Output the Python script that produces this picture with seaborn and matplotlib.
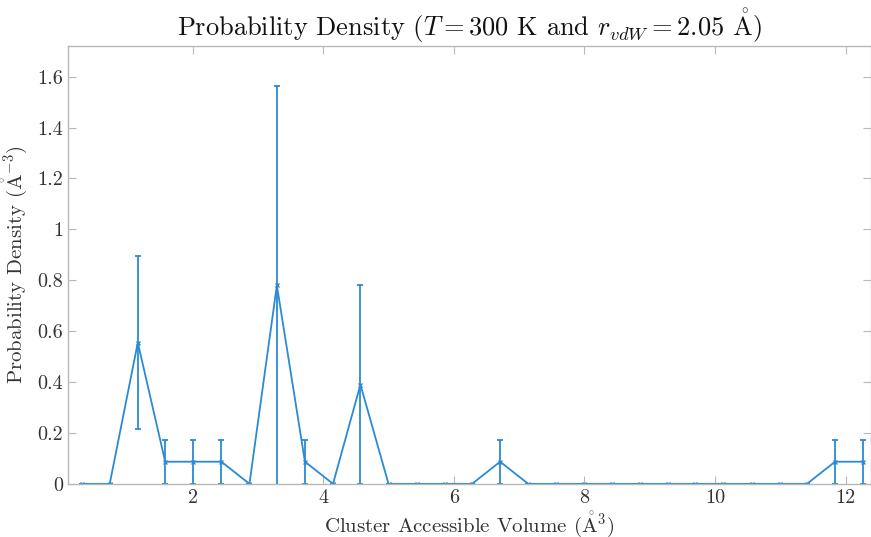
import numpy as np
import pandas as pd
import matplotlib
matplotlib.use("Agg")
import matplotlib.pyplot as plt
import seaborn as sns

# cluster volume bins (A^3)
volume = [0.30, 0.73, 1.16, 1.58, 2.01, 2.44, 2.87, 3.29, 3.72, 4.15,
          4.57, 5.00, 5.43, 5.86, 6.28, 6.71, 7.14, 7.57, 7.99, 8.42,
          8.85, 9.28, 9.70, 10.13, 10.56, 10.99, 11.41, 11.84, 12.27]
density = [0, 0, 0.555, 0.087, 0.087, 0.087, 0, 0.78, 0.087, 0,
           0.39, 0, 0, 0, 0, 0.087, 0, 0, 0, 0,
           0, 0, 0, 0, 0, 0, 0, 0.087, 0.087]
err = [0, 0, 0.34, 0.087, 0.087, 0.087, 0, 0.785, 0.087, 0,
       0.39, 0, 0, 0, 0, 0.087, 0, 0, 0, 0,
       0, 0, 0, 0, 0, 0, 0, 0.087, 0.087]

xticks = [2, 4, 6, 8, 10, 12]
yticks = [0, 0.2, 0.4, 0.6, 0.8, 1, 1.2, 1.4, 1.6]
ytick_labels = ['0', '0.2', '0.4', '0.6', '0.8', '1', '1.2', '1.4', '1.6']

df = pd.DataFrame({'volume': volume, 'density': density, 'err': err})

sns.set_style('ticks')
plt.rcParams['font.family'] = ['cmr10', 'DejaVu Serif']
plt.rcParams['mathtext.fontset'] = 'cm'
plt.rcParams['axes.formatter.use_mathtext'] = True

blue = '#2a8bd4'
grey = '#b8b8b8'
txt = '#333333'
ang = r'\mathring{\mathrm{A}}'

fig = plt.figure(figsize=(8.71, 5.37), dpi=100)
ax = fig.add_axes([0.078, 0.099, 0.922, 0.815])

sns.lineplot(data=df, x='volume', y='density', ax=ax, color=blue, lw=1.3,
             marker='x', markersize=3, markeredgewidth=1, markeredgecolor=blue)
ax.errorbar(df['volume'], df['density'], yerr=df['err'], fmt='none',
            ecolor=blue, elinewidth=1.3, capsize=2.2, capthick=1.3)

ax.set_xlim(0.09, 12.39)
ax.set_ylim(0, 1.72)
ax.set_xticks(xticks)
ax.set_xticklabels([str(t) for t in xticks])
ax.set_yticks(yticks)
ax.set_yticklabels(ytick_labels)

for s in ax.spines.values():
    s.set_visible(True)
    s.set_color(grey)
    s.set_linewidth(1)
ax.tick_params(direction='in', length=6, width=0.8, color=grey,
               labelcolor=txt, labelsize=14.5, top=True, right=True)

ax.set_xlabel('Cluster Accessible Volume ($' + ang + '^3$)', fontsize=15, color=txt, labelpad=2)
ax.set_ylabel('Probability Density ($' + ang + '^{-3}$)', fontsize=15, color=txt, labelpad=6)
ax.set_title('Probability Density ($T = 300$ K and $r_{vdW} = 2.05$ $' + ang + '$)',
             fontsize=19, color='#111111', pad=7)

fig.savefig('out.png', dpi=100)
